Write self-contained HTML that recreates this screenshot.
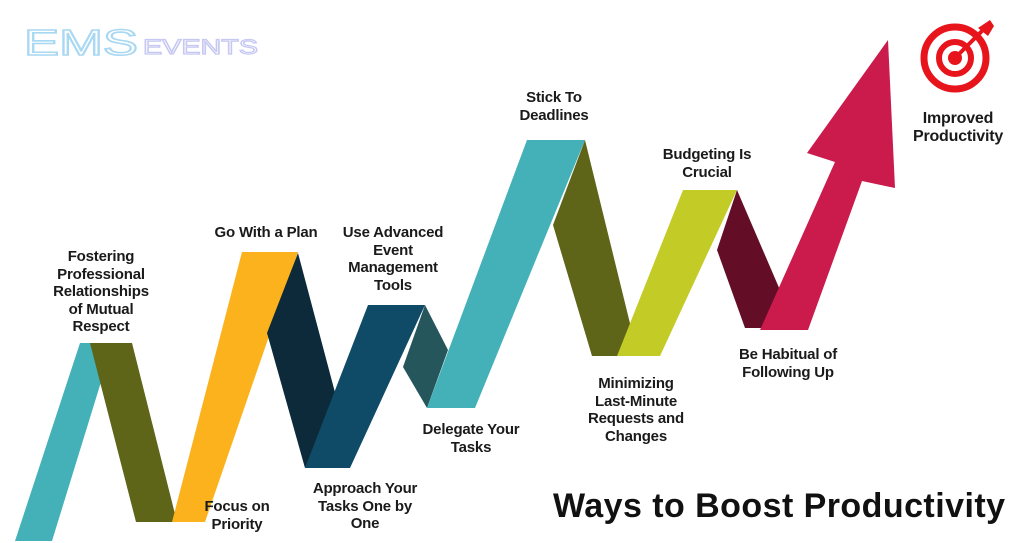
<!DOCTYPE html>
<html><head><meta charset="utf-8"><style>
body{margin:0;background:#fff;width:1024px;height:543px;overflow:hidden;position:relative;font-family:"Liberation Sans",sans-serif}
.l{position:absolute;font-weight:bold;font-size:15px;line-height:17.5px;text-align:center;color:#1a1a1a;transform:translateX(-50%);white-space:nowrap;letter-spacing:-0.2px}
</style></head><body>
<svg width="1024" height="543" style="position:absolute;left:0;top:0">
<polygon points="15,541 52,541 113,343 80,343" fill="#44b0b8"/>
<polygon points="90,343 132,343 177,522 136,522" fill="#5e6418"/>
<polygon points="172,522 205,522 298,252 242,252" fill="#fbb21c"/>
<polygon points="267,333 298,253 337,400 305,468" fill="#0c2a3a"/>
<polygon points="305,468 350,468 425,305 368,305" fill="#0f4a66"/>
<polygon points="403,367 425,305 448,350 427,408" fill="#24565c"/>
<polygon points="427,408 475,408 585,140 527,140" fill="#44b0b8"/>
<polygon points="553,225 585,140 638,356 592,356" fill="#5e6418"/>
<polygon points="617,356 660,356 737,190 683,190" fill="#c3cc26"/>
<polygon points="717,250 737,190 780,290 765,328 745,328" fill="#630e26"/>
<polygon points="760,330 808,330 862,181 895,188 888,40 807,153 835,162" fill="#cb1a4c"/>
<g fill="none" stroke="#e8141b">
<circle cx="955" cy="58" r="31" stroke-width="7"/>
<circle cx="955" cy="58" r="16" stroke-width="6"/>
</g>
<circle cx="955" cy="58" r="7" fill="#e8141b"/>
<line x1="955" y1="58" x2="982" y2="31" stroke="#e8141b" stroke-width="4"/>
<polygon points="978,28 990,20 994,26 988,36" fill="#e8141b"/>
<text x="24" y="55" font-family="Liberation Sans" font-size="36" fill="none" stroke="#a8d8f2" stroke-width="1.6" textLength="114" lengthAdjust="spacingAndGlyphs">EMS</text>
<text x="143" y="54" font-family="Liberation Sans" font-size="21" fill="none" stroke="#c6c8f2" stroke-width="1.2" textLength="115" lengthAdjust="spacingAndGlyphs">EVENTS</text>
</svg>
<div class="l" style="left:101px;top:248px">Fostering<br>Professional<br>Relationships<br>of Mutual<br>Respect</div>
<div class="l" style="left:266px;top:224px">Go With a Plan</div>
<div class="l" style="left:393px;top:224px">Use Advanced<br>Event<br>Management<br>Tools</div>
<div class="l" style="left:237px;top:498px">Focus on<br>Priority</div>
<div class="l" style="left:365px;top:480px">Approach Your<br>Tasks One by<br>One</div>
<div class="l" style="left:471px;top:421px">Delegate Your<br>Tasks</div>
<div class="l" style="left:554px;top:89px">Stick To<br>Deadlines</div>
<div class="l" style="left:707px;top:146px">Budgeting Is<br>Crucial</div>
<div class="l" style="left:636px;top:375px">Minimizing<br>Last-Minute<br>Requests and<br>Changes</div>
<div class="l" style="left:788px;top:346px">Be Habitual of<br>Following Up</div>
<div class="l" style="left:958px;top:110px;font-size:16px">Improved<br>Productivity</div>
<div style="position:absolute;left:553px;top:487px;font-weight:bold;font-size:34px;color:#111;white-space:nowrap;letter-spacing:0.45px">Ways to Boost Productivity</div>
</body></html>
